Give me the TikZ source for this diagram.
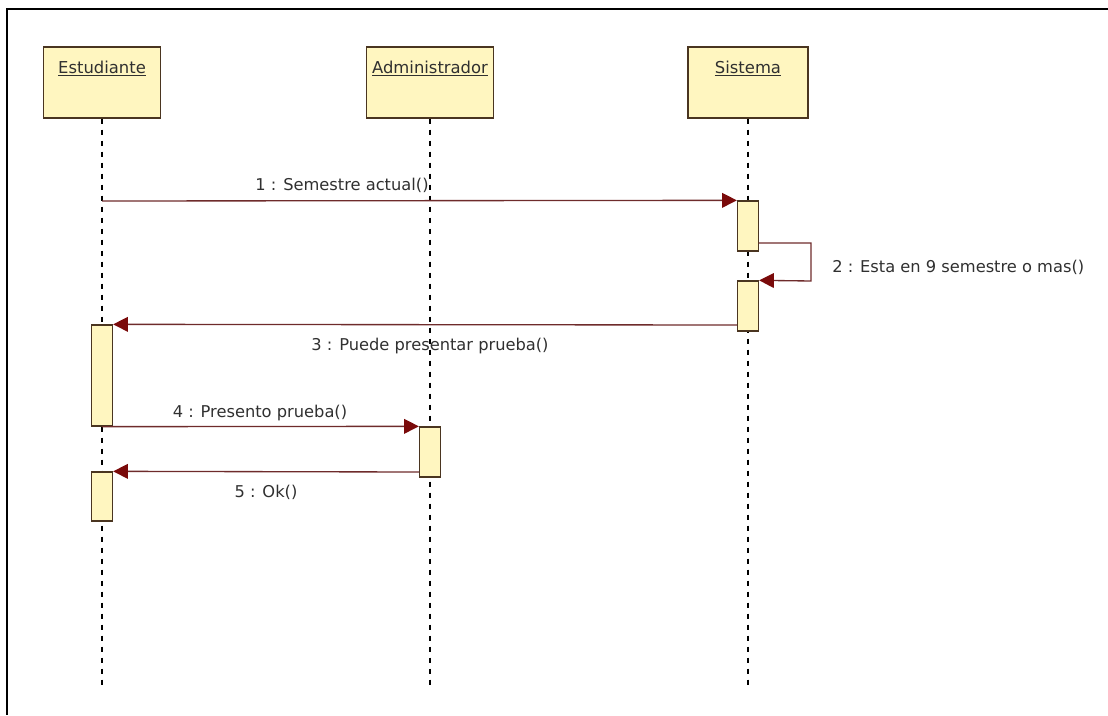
\documentclass[tikz,border=0pt]{standalone}
\usepackage{fontspec}
\setmainfont{DejaVu Sans}
\usetikzlibrary{arrows.meta}
\definecolor{boxfill}{HTML}{FFF6C0}
\definecolor{boxline}{HTML}{4A3520}
\definecolor{msgline}{HTML}{6E2B2B}
\definecolor{tipred}{HTML}{7A0A0A}
\definecolor{txt}{HTML}{303030}
\tikzset{
  actor/.style={draw=boxline, fill=boxfill, line width=1.1pt, minimum width=#1*0.75pt, minimum height=53.25pt, inner sep=0pt},
  actlabel/.style={font=\fontsize{12.3}{14}\selectfont, text=txt, inner sep=0pt, anchor=base},
  lifeline/.style={draw=black, line width=0.9pt, dash pattern=on 3.75pt off 4.5pt},
  activation/.style={draw=boxline, fill=boxfill, line width=1pt, minimum width=15.75pt, minimum height=#1*0.75pt, inner sep=0pt},
  msg/.style={draw=msgline, line width=1pt, -{Triangle[length=11pt, width=11pt, fill=tipred, color=tipred]}},
  msglabel/.style={font=\fontsize{12.2}{14}\selectfont, text=txt, inner sep=0pt, anchor=base},
}
\begin{document}
\begin{tikzpicture}[x=0.75pt, y=-0.75pt]
  \useasboundingbox (0,0) rectangle (1108,715);
  % frame
  \draw[line width=2.2pt] (1108,9) -- (7,9) -- (7,715);

  % actors
  \node[actor=117] (est) at (102,82.5) {};
  \node[actor=127] (adm) at (430,82.5) {};
  \node[actor=120] (sis) at (748,82.5) {};
  \node[actlabel] (estL) at (102,73) {\underline{Estudiante}};
  \node[actlabel] (admL) at (430,73) {\underline{Administrador}};
  \node[actlabel] (sisL) at (748,73) {\underline{Sistema}};

  % lifeline ends
  \coordinate (estE) at (102,685);
  \coordinate (admE) at (430,685);
  \coordinate (sisE) at (748,685);
  \draw[lifeline] (est.south) -- (estE);
  \draw[lifeline] (adm.south) -- (admE);
  \draw[lifeline] (sis.south) -- (sisE);

  % activation bars
  \node[activation=50]  (sa1) at (748,226) {};
  \node[activation=50]  (sa2) at (748,306) {};
  \node[activation=101] (ea1) at (102,375.5) {};
  \node[activation=50]  (aa1) at (430,452) {};
  \node[activation=49]  (ea2) at (102,496.5) {};

  % message 1
  \coordinate (m1s) at (102,201);
  \draw[msg] (m1s) -- (sa1.north west);
  \node[msglabel] (l1) at (342,190) {1 : Semestre actual()};

  % message 2 (self call)
  \coordinate (m2a) at (758.5,243);
  \coordinate (m2b) at (811,243);
  \coordinate (m2c) at (811,281);
  \draw[msg] (m2a) -- (m2b) -- (m2c) -- (sa2.north east);
  \node[msglabel, anchor=base west] (l2) at (832,272) {2 : Esta en 9 semestre o mas()};

  % message 3
  \draw[msg] (sa2.west |- 0,325) -- (ea1.north east);
  \node[msglabel] (l3) at (430,350) {3 : Puede presentar prueba()};

  % message 4
  \draw[msg] (ea1.south) -- (aa1.north west);
  \node[msglabel] (l4) at (260,417) {4 : Presento prueba()};

  % message 5
  \draw[msg] (aa1.west |- 0,472) -- (ea2.north east);
  \node[msglabel] (l5) at (266,497) {5 : Ok()};
\end{tikzpicture}
\end{document}
